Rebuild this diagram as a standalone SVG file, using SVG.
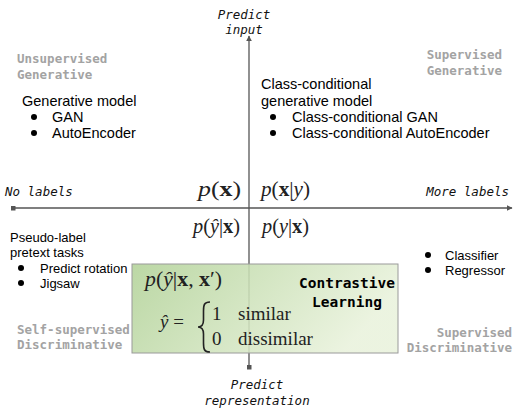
<svg xmlns="http://www.w3.org/2000/svg" width="514" height="410" viewBox="0 0 514 410">
<defs>
<style>
.ax{font-family:"DejaVu Sans Mono","Liberation Mono",monospace;font-style:italic;font-size:12.5px;fill:#111}
.cat{font-family:"DejaVu Sans Mono","Liberation Mono",monospace;font-weight:bold;font-size:12.5px;fill:#a3a3a3}
.txt{font-family:"Liberation Sans",Arial,sans-serif;font-size:14.5px;fill:#000}
.sm{font-family:"Liberation Sans",Arial,sans-serif;font-size:13px;fill:#000}
.m{font-family:"Liberation Serif","DejaVu Serif",serif;font-size:21px;fill:#222}
.mi{font-style:italic}
.mb{font-weight:bold}
.cl{font-family:"DejaVu Sans Mono","Liberation Mono",monospace;font-weight:bold;font-size:14.5px;fill:#000}
.axis{stroke:#555;stroke-width:1.3;fill:none}
</style>
<marker id="arr" viewBox="0 0 10 10" refX="9" refY="5" markerWidth="6" markerHeight="6" orient="auto" markerUnits="userSpaceOnUse">
<path d="M0,0 L10,5 L0,10 z" fill="#555"/>
</marker>
<marker id="sq" viewBox="0 0 10 10" refX="5" refY="5" markerWidth="5" markerHeight="5" orient="auto" markerUnits="userSpaceOnUse">
<rect x="0" y="0" width="10" height="10" fill="#555"/>
</marker>
<linearGradient id="grn" x1="0" y1="0" x2="1" y2="0.3">
<stop offset="0" stop-color="#b2d298"/>
<stop offset="1" stop-color="#e9f2dc"/>
</linearGradient>
</defs>

<g id="connectors">
<line class="axis" x1="13" y1="208" x2="512" y2="208" marker-start="url(#sq)" marker-end="url(#arr)"/>
<line class="axis" x1="249" y1="367" x2="249" y2="36" marker-start="url(#sq)" marker-end="url(#arr)"/>
</g>

<g id="axis-labels">
<text class="ax" x="244" y="19" text-anchor="middle">Predict</text>
<text class="ax" x="244" y="34" text-anchor="middle">input</text>
<text class="ax" x="257" y="389" text-anchor="middle">Predict</text>
<text class="ax" x="257" y="405" text-anchor="middle">representation</text>
<text class="ax" x="5" y="196">No labels</text>
<text class="ax" x="509" y="196" text-anchor="end">More labels</text>
</g>

<g id="q-unsup-gen">
<text class="cat" x="17" y="63">Unsupervised</text>
<text class="cat" x="17" y="79">Generative</text>
<text class="txt" x="22" y="106">Generative model</text>
<circle cx="34" cy="117" r="3"/>
<text class="txt" x="52" y="122">GAN</text>
<circle cx="34" cy="133" r="3"/>
<text class="txt" x="52" y="138">AutoEncoder</text>
</g>

<g id="q-sup-gen">
<text class="cat" x="502" y="59" text-anchor="end">Supervised</text>
<text class="cat" x="502" y="75" text-anchor="end">Generative</text>
<text class="txt" x="261" y="89">Class-conditional</text>
<text class="txt" x="261" y="106">generative model</text>
<circle cx="273" cy="117" r="3"/>
<text class="txt" x="292" y="122">Class-conditional GAN</text>
<circle cx="273" cy="133" r="3"/>
<text class="txt" x="292" y="138">Class-conditional AutoEncoder</text>
</g>

<g id="formulas">
<text class="m" x="198" y="196" textLength="43" lengthAdjust="spacingAndGlyphs"><tspan class="mi">p</tspan>(<tspan class="mb">x</tspan>)</text>
<text class="m" x="261" y="196" textLength="49" lengthAdjust="spacingAndGlyphs"><tspan class="mi">p</tspan>(<tspan class="mb">x</tspan>|<tspan class="mi">y</tspan>)</text>
<text class="m" x="193" y="233" textLength="47" lengthAdjust="spacingAndGlyphs"><tspan class="mi">p</tspan>(<tspan class="mi">ŷ</tspan>|<tspan class="mb">x</tspan>)</text>
<text class="m" x="262" y="233" textLength="47" lengthAdjust="spacingAndGlyphs"><tspan class="mi">p</tspan>(<tspan class="mi">y</tspan>|<tspan class="mb">x</tspan>)</text>
</g>

<g id="q-self-sup">
<text class="sm" x="10" y="242">Pseudo-label</text>
<text class="sm" x="10" y="257">pretext tasks</text>
<circle cx="21" cy="268" r="3"/>
<text class="sm" x="40" y="273">Predict rotation</text>
<circle cx="21" cy="283" r="3"/>
<text class="sm" x="40" y="288">Jigsaw</text>
<text class="cat" x="17" y="334">Self-supervised</text>
<text class="cat" x="17" y="349">Discriminative</text>
</g>

<g id="q-sup-disc">
<circle cx="428" cy="255" r="3"/>
<text class="sm" x="445" y="260">Classifier</text>
<circle cx="428" cy="270" r="3"/>
<text class="sm" x="445" y="275">Regressor</text>
<text class="cat" x="512" y="337" text-anchor="end">Supervised</text>
<text class="cat" x="512" y="352" text-anchor="end">Discriminative</text>
</g>

<g id="contrastive">
<rect x="132" y="264" width="266" height="89" fill="url(#grn)" fill-opacity="0.88" stroke="#9a9a9a" stroke-width="1"/>
<text class="m" x="145" y="286" textLength="77" lengthAdjust="spacingAndGlyphs"><tspan class="mi">p</tspan>(<tspan class="mi">ŷ</tspan>|<tspan class="mb">x</tspan>, <tspan class="mb">x</tspan>′)</text>
<text class="m" x="160" y="328" style="font-size:19px"><tspan class="mi">ŷ</tspan> =</text>
<path d="M210,302 C204,302 203.5,305 203.5,311 L203.5,320 C203.5,324.5 202,327 198,327 C202,327 203.5,329.5 203.5,334 L203.5,343 C203.5,349 204,352 210,352" fill="none" stroke="#222" stroke-width="1.6"/>
<text class="m" x="212" y="320" style="font-size:19px">1</text>
<text class="m" x="238" y="320" style="font-size:19px">similar</text>
<text class="m" x="212" y="345" style="font-size:19px">0</text>
<text class="m" x="238" y="345" style="font-size:19px">dissimilar</text>
<text class="cl" x="347" y="288" text-anchor="middle">Contrastive</text>
<text class="cl" x="347" y="307" text-anchor="middle">Learning</text>
</g>
</svg>
